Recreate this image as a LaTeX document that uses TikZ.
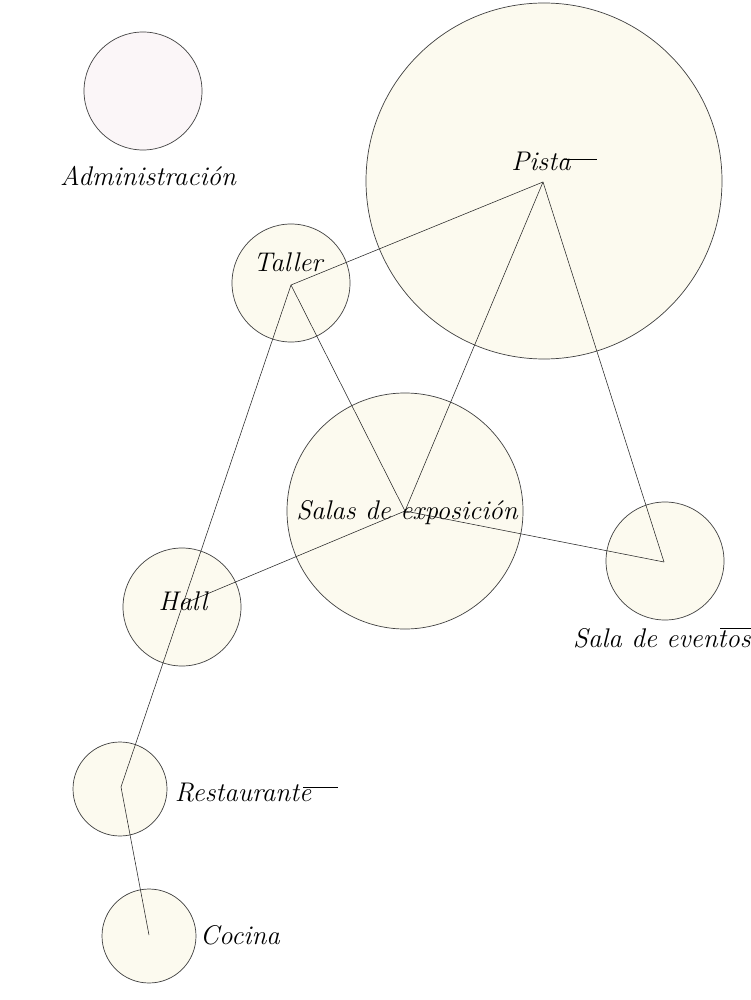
\documentclass[tikz,border=0pt]{standalone}
\usepackage{fontspec}
\begin{document}
\begin{tikzpicture}[x=1pt,y=-1pt,
  room/.style={circle,draw=black!75,line width=0.7pt,fill=parch,inner sep=0pt},
  lbl/.style={font=\fontsize{27}{31}\selectfont\itshape,text=black,inner sep=0pt},
  link/.style={draw=black!85,line width=0.55pt},
  swash/.style={draw=black,line width=0.7pt}]
\definecolor{parch}{HTML}{FCFAEF}
\definecolor{pinkish}{HTML}{FBF6F8}
\useasboundingbox (0,0) rectangle (751,1000);
\fill[white] (0,0) rectangle (751,1000);
% rooms
\node[room,fill=pinkish,minimum size=118pt] (adm) at (143,91) {};
\node[room,minimum size=356pt] (pista) at (544,181) {};
\node[room,minimum size=118pt] (taller) at (291,283) {};
\node[room,minimum size=236pt] (salas) at (405,511) {};
\node[room,minimum size=118pt] (eventos) at (665,561) {};
\node[room,minimum size=118pt] (hall) at (182,607) {};
\node[room,minimum size=94pt] (rest) at (120,789) {};
\node[room,minimum size=94pt] (cocina) at (149,936) {};
% hubs
\coordinate (hPista) at (543,182);
\coordinate (hTaller) at (291,285);
\coordinate (hSalas) at (405,511);
\coordinate (hEventos) at (664,562);
\coordinate (hHall) at (183,604);
\coordinate (hRest) at (121,787);
\coordinate (hCocina) at (149,935);
% connectors
\draw[link] (hPista) -- (hTaller);
\draw[link] (hPista) -- (hSalas);
\draw[link] (hPista) -- (hEventos);
\draw[link] (hTaller) -- (hSalas);
\draw[link] (hTaller) -- (hHall);
\draw[link] (hHall) -- (hRest);
\draw[link] (hSalas) -- (hHall);
\draw[link] (hSalas) -- (hEventos);
\draw[link] (hRest) -- (hCocina);
% labels
\node[lbl] (lAdm) at (148,176) {Administración};
\node[lbl] (lPista) at (541,161) {Pista};
\node[lbl] (lTaller) at (288,262) {Taller};
\node[lbl] (lSalas) at (407,513) {Salas de exposición};
\node[lbl] (lEventos) at (662,638) {Sala de eventos};
\node[lbl] (lHall) at (183,601) {Hall};
\node[lbl] (lRest) at (243,793) {Restaurante};
\node[lbl] (lCocina) at (240,935) {Cocina};
% swashes
\draw[swash] ([shift={(22,-2)}]lPista.center) -- ([shift={(56,-2)}]lPista.center);
\draw[swash] ([shift={(60,-6)}]lRest.center) -- ([shift={(95,-6)}]lRest.center);
\draw[swash] ([shift={(58,-10)}]lEventos.center) -- ([shift={(89,-10)}]lEventos.center);
\end{tikzpicture}
\end{document}
